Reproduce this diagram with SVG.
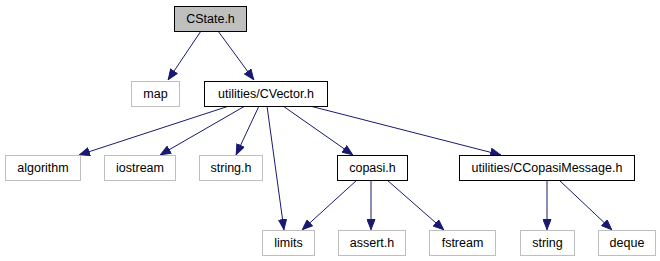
<svg xmlns="http://www.w3.org/2000/svg" width="660" height="261" viewBox="0 0 660 261">
  <style>
    .bg { fill: #ffffff; }
    .node rect { stroke-width: 1; }
    .main rect { fill: #bfbfbf; stroke: #000000; }
    .local rect { fill: #ffffff; stroke: #000000; }
    .sys rect { fill: #ffffff; stroke: #bfbfbf; }
    .node text { font-family: "Liberation Sans", Arial, Helvetica, sans-serif; font-size: 12.5px; fill: #000000; text-anchor: middle; }
    .edges path { fill: none; stroke: #191970; stroke-width: 1; marker-end: url(#arrow); }
  </style>
  <defs>
    <marker id="arrow" viewBox="0 0 11 9" refX="11" refY="4.5" markerWidth="11" markerHeight="9" markerUnits="userSpaceOnUse" orient="auto">
      <path d="M0.5,0.5 L10.5,4.5 L0.5,8.5 Z" fill="#191970" stroke="#191970" stroke-width="1"/>
    </marker>
  </defs>
  <rect class="bg" x="0" y="0" width="660" height="261"/>

  <g class="edges" id="edges">
    <path d="M201,31 L168,80"/>
    <path d="M218,31 L254,80"/>
    <path d="M229,106 L79,155"/>
    <path d="M245,106 L160,155"/>
    <path d="M259,106 L236,155"/>
    <path d="M267,106 L284,230"/>
    <path d="M283,106 L353,155"/>
    <path d="M310,106 L501,155"/>
    <path d="M357,180 L302,230"/>
    <path d="M371,180 L371,230"/>
    <path d="M387,180 L444,230"/>
    <path d="M547,180 L547,230"/>
    <path d="M559,180 L612,230"/>
  </g>

  <g class="node main" id="cstate_h">
    <rect x="174.5" y="6.5" width="72" height="25"/>
    <text x="210.5" y="22.5">CState.h</text>
  </g>
  <g class="node sys" id="map">
    <rect x="131.5" y="81.5" width="48" height="25"/>
    <text x="155.5" y="97.5">map</text>
  </g>
  <g class="node local" id="cvector_h">
    <rect x="204.5" y="81.5" width="123" height="25"/>
    <text x="266" y="97.5">utilities/CVector.h</text>
  </g>
  <g class="node sys" id="algorithm">
    <rect x="5.5" y="155.5" width="75" height="25"/>
    <text x="43" y="171.5">algorithm</text>
  </g>
  <g class="node sys" id="iostream">
    <rect x="104.5" y="155.5" width="71" height="25"/>
    <text x="140" y="171.5">iostream</text>
  </g>
  <g class="node sys" id="string_h">
    <rect x="199.5" y="155.5" width="63" height="25"/>
    <text x="231" y="171.5">string.h</text>
  </g>
  <g class="node local" id="copasi_h">
    <rect x="337.5" y="155.5" width="70" height="25"/>
    <text x="372.5" y="171.5">copasi.h</text>
  </g>
  <g class="node local" id="ccopasimessage_h">
    <rect x="459.5" y="155.5" width="175" height="25"/>
    <text x="547" y="171.5">utilities/CCopasiMessage.h</text>
  </g>
  <g class="node sys" id="limits">
    <rect x="262.5" y="230.5" width="52" height="25"/>
    <text x="288.5" y="246.5">limits</text>
  </g>
  <g class="node sys" id="assert_h">
    <rect x="338.5" y="230.5" width="67" height="25"/>
    <text x="372" y="246.5">assert.h</text>
  </g>
  <g class="node sys" id="fstream">
    <rect x="429.5" y="230.5" width="66" height="25"/>
    <text x="462.5" y="246.5">fstream</text>
  </g>
  <g class="node sys" id="string">
    <rect x="520.5" y="230.5" width="54" height="25"/>
    <text x="547.5" y="246.5">string</text>
  </g>
  <g class="node sys" id="deque">
    <rect x="598.5" y="230.5" width="57" height="25"/>
    <text x="627" y="246.5">deque</text>
  </g>
</svg>
